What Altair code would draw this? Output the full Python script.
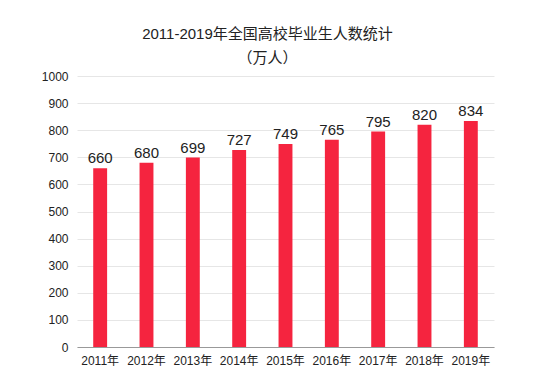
import altair as alt
import pandas as pd

years = ["2011年", "2012年", "2013年", "2014年", "2015年", "2016年", "2017年", "2018年", "2019年"]
values = [660, 680, 699, 727, 749, 765, 795, 820, 834]
y_ticks = [0, 100, 200, 300, 400, 500, 600, 700, 800, 900, 1000]

df = pd.DataFrame({"year": years, "value": values})

FONT = "Liberation Sans, Noto Sans CJK SC"
BAR = "#F5243F"

base = alt.Chart(df).encode(
    x=alt.X("year:N", sort=years, title=None,
            scale=alt.Scale(paddingInner=0.7, paddingOuter=0.35),
            axis=alt.Axis(labelAngle=0, labelFontSize=12, labelColor="#222", labelFont=FONT,
                          domainColor="#999", ticks=False, labelPadding=8, domainWidth=1)),
    y=alt.Y("value:Q", title=None,
            scale=alt.Scale(domain=[0, 1000]),
            axis=alt.Axis(values=y_ticks, format="d", labelOverlap=False,
                          labelFontSize=12, labelColor="#222", labelFont=FONT,
                          domain=False, ticks=False, labelPadding=9,
                          gridColor="#e6e6e6", gridWidth=1)),
)

bars = base.mark_bar(color=BAR)

labels = base.mark_text(baseline="bottom", dy=-2, fontSize=15, font=FONT, color="#222").encode(
    text="value:Q",
)

chart = (bars + labels).properties(
    width=417, height=271,
    title=alt.TitleParams(
        text=["2011-2019年全国高校毕业生人数统计", "（万人）"],
        anchor="middle", fontSize=15, font=FONT, color="#222", fontWeight="normal",
        lineHeight=24, offset=4, dx=-18,
    ),
    autosize=alt.AutoSizeParams(type="none"),
    padding={"left": 69, "top": 68, "right": 55, "bottom": 30},
).configure_view(stroke=None)

chart.save("out.html", embed_options={"renderer": "svg", "actions": False})
